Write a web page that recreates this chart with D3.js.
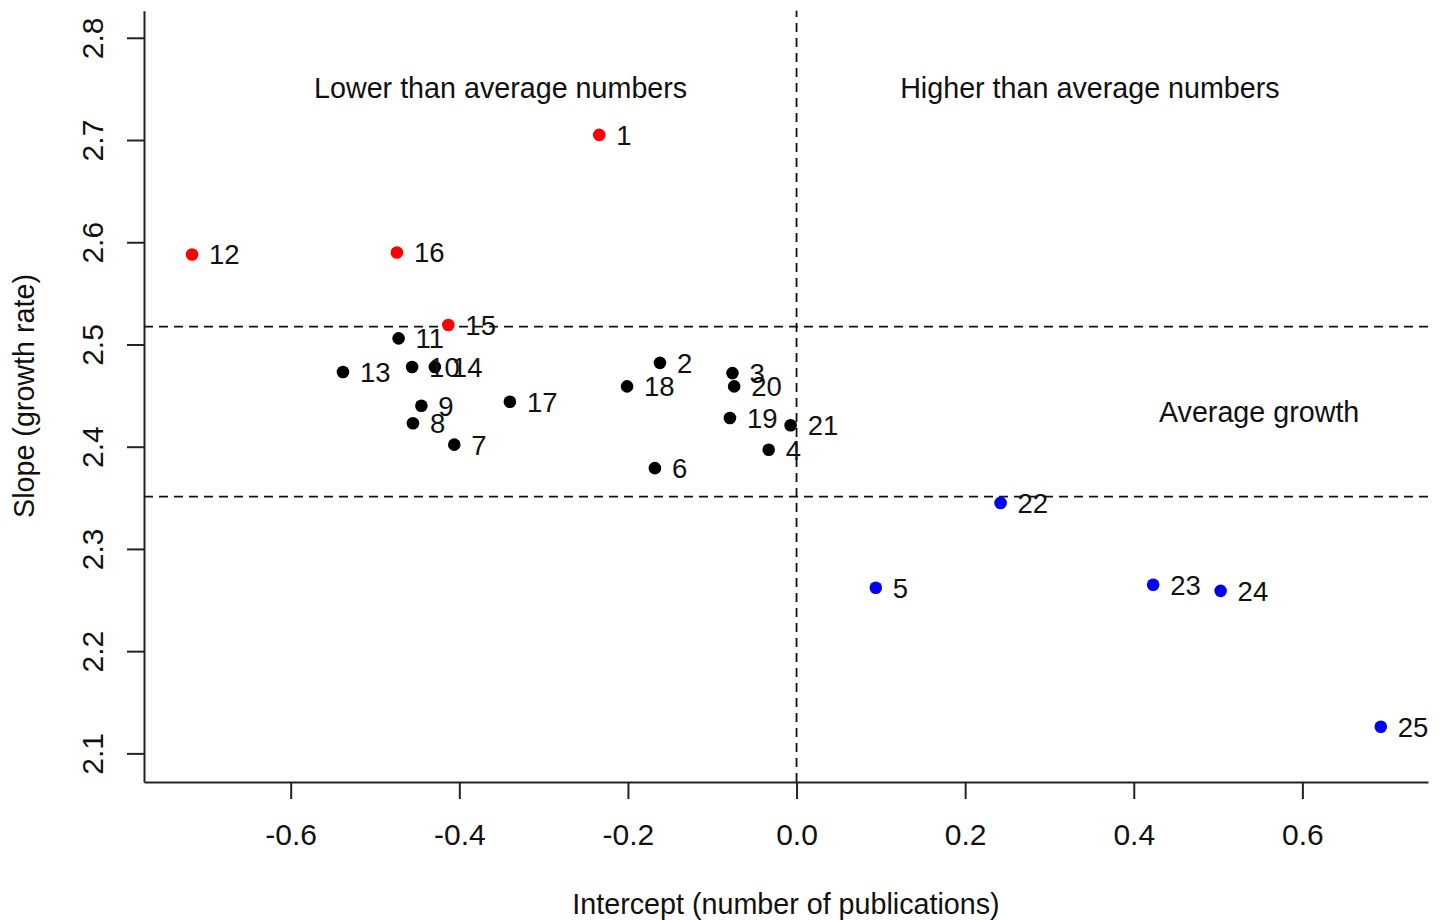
<!DOCTYPE html>
<html>
<head>
<meta charset="utf-8">
<script src="https://cdn.jsdelivr.net/npm/d3@7"></script>
<style>
  body { margin: 0; background: #fff; }
  svg text { font-family: "Liberation Sans", Arial, sans-serif; fill: #111; }
</style>
</head>
<body>
<div id="chart"></div>
<script>
// point ids, intercept (x), slope (y), group colour
const ids        = [1, 2, 3, 4, 5, 6, 7, 8, 9, 10, 11, 12, 13, 14, 15, 16, 17, 18, 19, 20, 21, 22, 23, 24, 25];
const intercepts = [-0.234, -0.162, -0.076, -0.033, 0.094, -0.168, -0.406, -0.455, -0.445, -0.456, -0.472, -0.717, -0.538, -0.429, -0.413, -0.474, -0.340, -0.201, -0.079, -0.074, -0.007, 0.242, 0.423, 0.503, 0.693];
const slopes     = [2.705, 2.482, 2.472, 2.397, 2.262, 2.379, 2.402, 2.423, 2.440, 2.478, 2.506, 2.588, 2.473, 2.478, 2.519, 2.590, 2.444, 2.459, 2.428, 2.459, 2.421, 2.345, 2.265, 2.259, 2.126];
const groups     = ['r', 'k', 'k', 'k', 'b', 'k', 'k', 'k', 'k', 'k', 'k', 'r', 'k', 'k', 'r', 'r', 'k', 'k', 'k', 'k', 'k', 'b', 'b', 'b', 'b'];

const xTicks = [-0.6, -0.4, -0.2, 0.0, 0.2, 0.4, 0.6];
const yTicks = [2.1, 2.2, 2.3, 2.4, 2.5, 2.6, 2.7, 2.8];

const refLinesY = [2.5174, 2.3511];
const refLineX = 0;

const notes = [
    {text: "Lower than average numbers", x: -0.351, y: 2.751},
    {text: "Higher than average numbers", x: 0.348, y: 2.751},
    {text: "Average growth", x: 0.5487, y: 2.434}
];

const colors = {r: "#ff0000", k: "#000000", b: "#0000ff"};

let width = 1442, height = 920;

let x = d3.scaleLinear().domain([-0.774, 0.749]).range([144, 1428]);
let y = d3.scaleLinear().domain([2.072, 2.8265]).range([782, 10.7]);

const points = ids.map((id, i) => ({id: id, x: intercepts[i], y: slopes[i], g: groups[i]}));

// R style labels: plain hyphen, one decimal
const fmt = d => d.toFixed(1);

let svg = d3.select("#chart").append("svg")
    .attr("width", width)
    .attr("height", height);

// axes
let gx = svg.append("g")
    .attr("transform", `translate(0,782)`)
    .call(d3.axisBottom(x).tickValues(xTicks).tickSize(17).tickSizeOuter(0).tickFormat(fmt));
gx.selectAll("text")
    .attr("y", 63).attr("dy", 0)
    .style("font-size", "30px");

let gy = svg.append("g")
    .attr("transform", `translate(144,0)`)
    .call(d3.axisLeft(y).tickValues(yTicks).tickSize(17).tickSizeOuter(0).tickFormat(fmt));
gy.selectAll("text")
    .attr("x", 0).attr("dy", 0).attr("y", -40.7)
    .attr("transform", "rotate(-90)")
    .attr("text-anchor", "middle")
    .style("font-size", "30px");

svg.selectAll(".domain, .tick line")
    .attr("stroke", "#222")
    .attr("stroke-width", 2);

// axis titles
svg.append("text")
    .attr("x", 786).attr("y", 914)
    .attr("text-anchor", "middle")
    .style("font-size", "28.7px")
    .text("Intercept (number of publications)");

svg.append("text")
    .attr("transform", "translate(33.5,396) rotate(-90)")
    .attr("text-anchor", "middle")
    .style("font-size", "28.7px")
    .text("Slope (growth rate)");

// dashed reference lines
let g_ref = svg.append("g").attr("class", "refs");
g_ref.selectAll("line.h").data(refLinesY).enter()
    .append("line").attr("class", "h")
    .attr("x1", x.range()[0]).attr("x2", x.range()[1])
    .attr("y1", d => y(d)).attr("y2", d => y(d))
    .attr("stroke", "#111").attr("stroke-width", 1.8)
    .attr("stroke-dasharray", "9,6");
g_ref.append("line")
    .attr("x1", x(refLineX)).attr("x2", x(refLineX))
    .attr("y1", y.range()[0]).attr("y2", y.range()[1])
    .attr("stroke", "#111").attr("stroke-width", 1.8)
    .attr("stroke-dasharray", "9,6");

// quadrant notes
svg.append("g").selectAll("text").data(notes).enter()
    .append("text")
    .attr("x", d => x(d.x)).attr("y", d => y(d.y))
    .attr("dy", "0.36em")
    .attr("text-anchor", "middle")
    .style("font-size", "28.7px")
    .text(d => d.text);

// points + labels
let g_pts = svg.append("g").attr("class", "points");
g_pts.selectAll("circle").data(points).enter()
    .append("circle")
    .attr("cx", d => x(d.x)).attr("cy", d => y(d.y))
    .attr("r", 6.3)
    .attr("fill", d => colors[d.g]);

g_pts.selectAll("text").data(points).enter()
    .append("text")
    .attr("x", d => x(d.x) + 17).attr("y", d => y(d.y))
    .attr("dy", "0.36em")
    .style("font-size", "27.5px")
    .text(d => d.id);
</script>
</body>
</html>
